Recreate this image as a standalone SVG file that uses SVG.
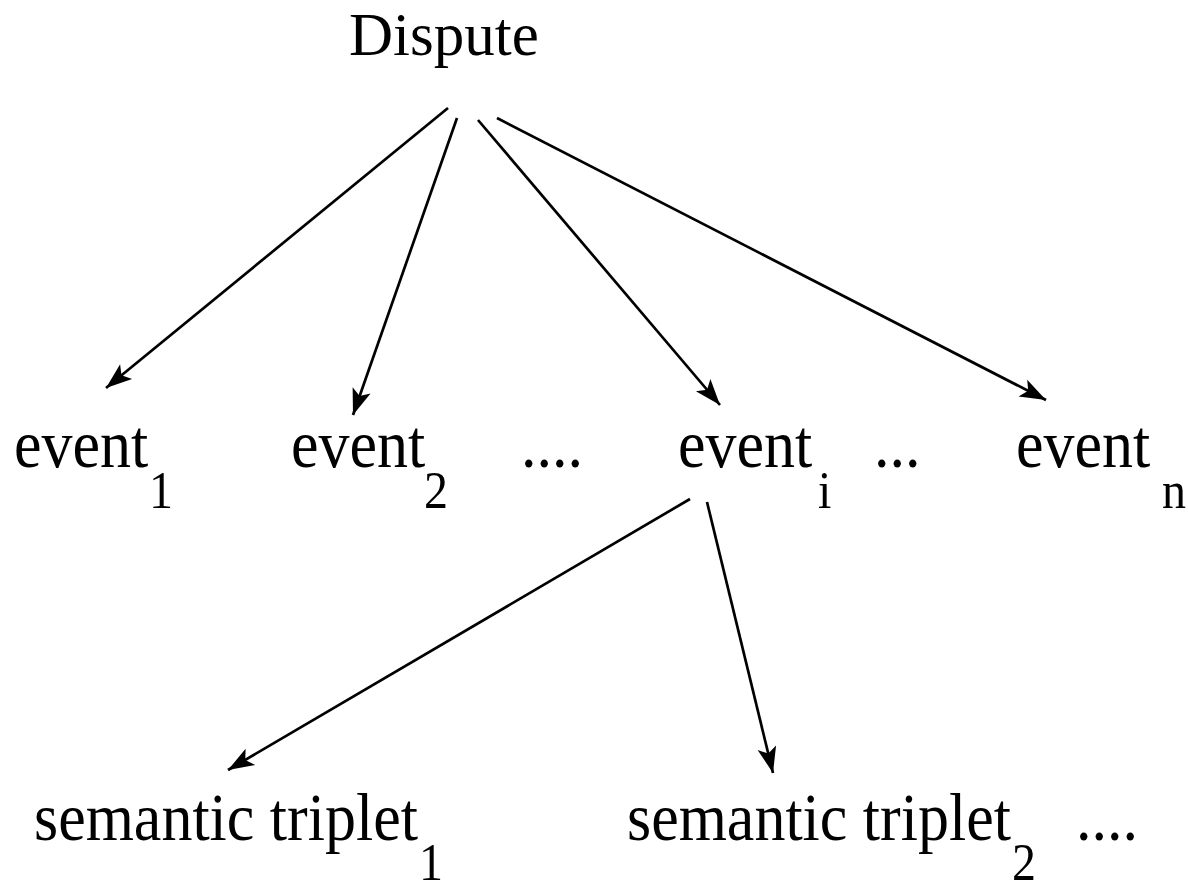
<svg xmlns="http://www.w3.org/2000/svg" width="1188" height="892" viewBox="0 0 1188 892">
<style>
text { font-family: "Liberation Serif", "Times New Roman", serif; fill: #000; }
.lbl { font-size: 62px; }
.sub { font-size: 48px; }
.edge { stroke: #000; stroke-width: 2.7; fill: none; marker-end: url(#ah); }
</style>
<defs>
<marker id="ah" markerUnits="userSpaceOnUse" viewBox="-28 -11 30 22" refX="0" refY="0" markerWidth="30" markerHeight="22" orient="auto">
<path d="M0,0 L-26,-9.5 L-20,0 L-26,9.5 Z" fill="#000"/>
</marker>
</defs>
<rect width="1188" height="892" fill="#fff"/>
<g id="connectors">
<line class="edge" x1="448" y1="108" x2="106" y2="388"/>
<line class="edge" x1="457" y1="118" x2="353" y2="415"/>
<line class="edge" x1="478" y1="120" x2="720" y2="405"/>
<line class="edge" x1="497" y1="118" x2="1046" y2="400"/>
<line class="edge" x1="690" y1="499" x2="228" y2="770"/>
<line class="edge" x1="707" y1="502" x2="773" y2="773"/>
</g>
<g id="dispute"><text class="lbl" style="font-size:61px" transform="translate(349,55) scale(1,1.01)">Dispute</text></g>
<g id="event1"><text class="lbl" transform="translate(14,467) scale(1,1.09)">event</text><text class="sub" transform="translate(149,508) scale(1,1.09)">1</text></g>
<g id="event2"><text class="lbl" transform="translate(291,467) scale(1,1.09)">event</text><text class="sub" transform="translate(424,508) scale(1,1.09)">2</text></g>
<g id="dots1"><text class="lbl" transform="translate(521,467) scale(1,1.09)">....</text></g>
<g id="eventi"><text class="lbl" transform="translate(678,467) scale(1,1.09)">event</text><text class="sub" transform="translate(818,508) scale(1,1.09)">i</text></g>
<g id="dots2"><text class="lbl" transform="translate(874,467) scale(1,1.09)">...</text></g>
<g id="eventn"><text class="lbl" transform="translate(1016,467) scale(1,1.09)">event</text><text class="sub" transform="translate(1162,508) scale(1,1.09)">n</text></g>
<g id="triplet1"><text class="lbl" transform="translate(34,840) scale(1,1.09)">semantic triplet</text><text class="sub" transform="translate(419,880) scale(1,1.08)">1</text></g>
<g id="triplet2"><text class="lbl" transform="translate(627,840) scale(1,1.09)">semantic triplet</text><text class="sub" transform="translate(1012,880) scale(1,1.08)">2</text></g>
<g id="dots3"><text class="lbl" transform="translate(1076,840) scale(1,1.09)">....</text></g>
</svg>
